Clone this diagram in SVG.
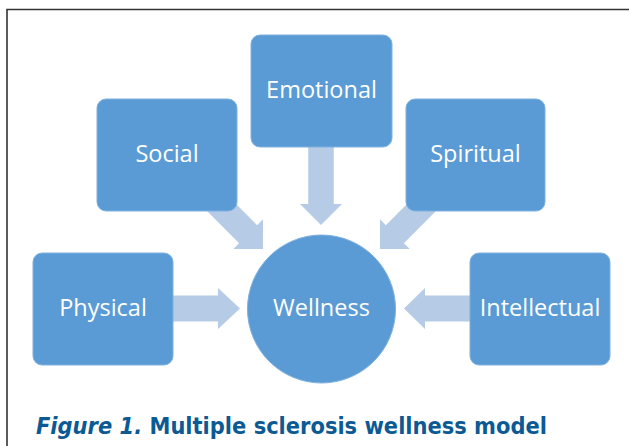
<svg xmlns="http://www.w3.org/2000/svg" width="629" height="446" viewBox="0 0 629 446">
<style>
.box{fill:#5B9BD5;stroke:#7EB1DF;stroke-width:1}
.lbl{font-family:"Open Sans","Liberation Sans",sans-serif;font-size:23.5px;fill:#FFFFFF;text-anchor:middle}
.arr{fill:#B6CBE6}
.cap{font-family:"DejaVu Sans","Liberation Sans",sans-serif;font-size:23px;font-weight:bold;fill:#0C5A94}
</style>
<rect width="629" height="446" fill="#FFFFFF"/>
<path d="M7,446 V9.5 H629" fill="none" stroke="#333333" stroke-width="1.6"/>
<g id="connectors">
<polygon class="arr" points="308.25,140 333.75,140 333.75,204 342,204 321,225 300,204 308.25,204"/>
<polygon class="arr" points="165,295.5 218,295.5 218,288 240,308.5 218,329 218,321.5 165,321.5"/>
<polygon class="arr" points="478,295.5 425,295.5 425,288 404,308.5 425,329 425,321.5 478,321.5"/>
<polygon class="arr" points="221.8,189.8 257.17,225.13 263,219.3 263,249 233.3,249 239.13,243.17 203.8,207.8"/>
<polygon class="arr" points="421.2,189.8 385.83,225.13 380,219.3 380,249 409.7,249 403.87,243.17 439.2,207.8"/>
</g>
<g id="emotional"><rect class="box" x="251" y="35" width="141" height="112" rx="9"/><text class="lbl" x="321.5" y="98">Emotional</text></g>
<g id="social"><rect class="box" x="97" y="99" width="140" height="112" rx="9"/><text class="lbl" x="167" y="162">Social</text></g>
<g id="spiritual"><rect class="box" x="406" y="99" width="139" height="112" rx="9"/><text class="lbl" x="475.5" y="162">Spiritual</text></g>
<g id="physical"><rect class="box" x="33" y="253" width="140" height="112" rx="9"/><text class="lbl" x="103" y="316">Physical</text></g>
<g id="intellectual"><rect class="box" x="470" y="253" width="140" height="112" rx="9"/><text class="lbl" x="540" y="316">Intellectual</text></g>
<g id="wellness"><circle class="box" cx="321.5" cy="309" r="74"/><text class="lbl" x="321.5" y="316">Wellness</text></g>
<text class="cap" x="36" y="434" textLength="511" lengthAdjust="spacingAndGlyphs"><tspan font-style="italic">Figure 1.</tspan> Multiple sclerosis wellness model</text>
</svg>
